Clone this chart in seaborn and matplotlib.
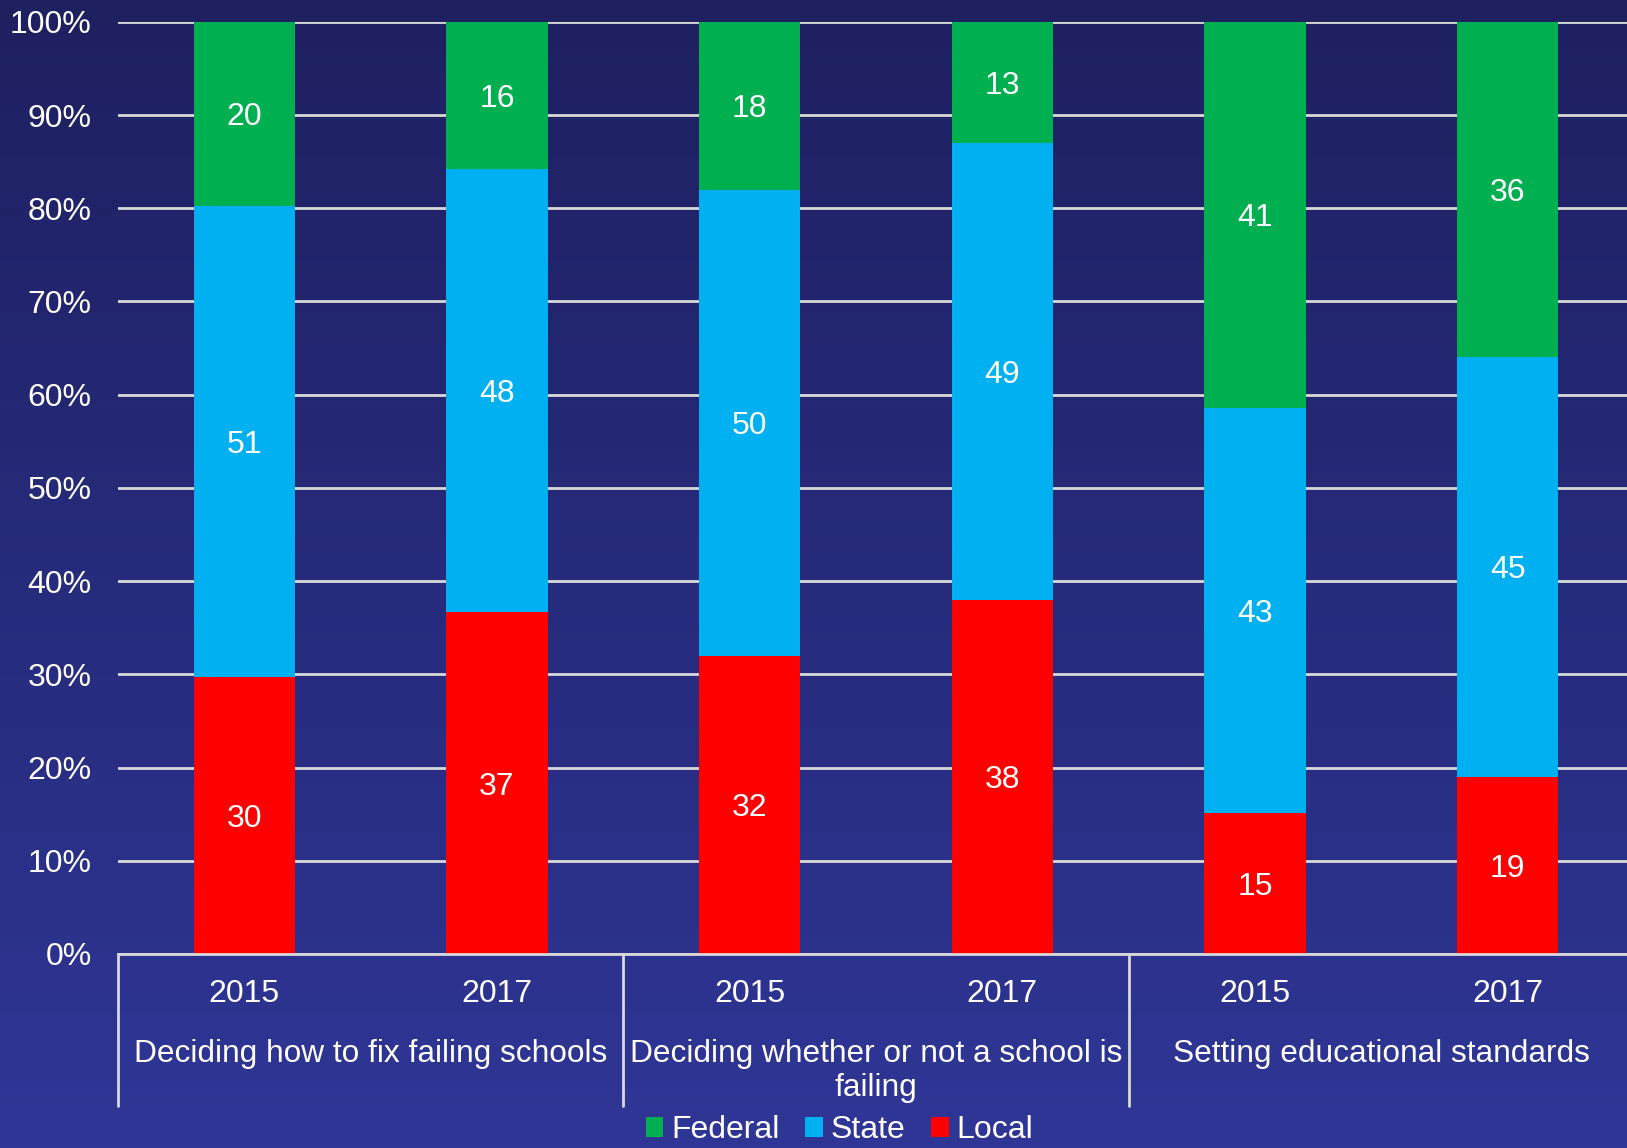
import matplotlib
matplotlib.use("Agg")
import matplotlib.pyplot as plt
import matplotlib.transforms as mtransforms
from matplotlib.patches import Patch
import seaborn as sns
import numpy as np
import pandas as pd

groups = ["Deciding how to fix failing schools",
          "Deciding whether or not a school is\nfailing",
          "Setting educational standards"]
years = ["2015", "2017", "2015", "2017", "2015", "2017"]
local = [30, 37, 32, 38, 15, 19]
state = [51, 48, 50, 49, 43, 45]
federal = [20, 16, 18, 13, 41, 36]

colors = {"Federal": "#00b050", "State": "#00b0f0", "Local": "#ff0000"}

# normalise to 100% stacks, labels keep the raw numbers
tot = np.array(local) + np.array(state) + np.array(federal)
loc_p = np.array(local) / tot * 100
sta_p = np.array(state) / tot * 100
fed_p = np.array(federal) / tot * 100

slots = [str(i) for i in range(len(years))]
df = pd.DataFrame({"slot": slots,
                   "Local": loc_p,
                   "LocalState": loc_p + sta_p,
                   "All": loc_p + sta_p + fed_p})

sns.set_style("white")
plt.rcParams["font.family"] = ["Liberation Sans", "DejaVu Sans"]

fig = plt.figure(figsize=(16.27, 11.48), dpi=100)

# gradient background
bg = fig.add_axes([0, 0, 1, 1], zorder=-10)
grad = np.linspace(0, 1, 256)[:, None]
top = np.array([30, 32, 96]) / 255
bot = np.array([47, 54, 150]) / 255
img = top[None, None, :] * (1 - grad[:, :, None]) + bot[None, None, :] * grad[:, :, None]
bg.imshow(img, aspect="auto", extent=[0, 1, 0, 1])
bg.set_axis_off()

ax = fig.add_axes([0.0725, 0.169, 0.9318, 0.812])
ax.patch.set_alpha(0)

for col, key in [("All", "Federal"), ("LocalState", "State"), ("Local", "Local")]:
    sns.barplot(data=df, x="slot", y=col, color=colors[key], width=0.4,
                saturation=1, linewidth=0, ax=ax, zorder=3)

fs = 23
off = 0.35  # labels sit slightly below segment centre
for i in range(len(years)):
    ax.text(i, loc_p[i] / 2 - off, str(local[i]), ha="center", va="center",
            color="white", fontsize=fs, zorder=5)
    ax.text(i, loc_p[i] + sta_p[i] / 2 - off, str(state[i]), ha="center",
            va="center", color="white", fontsize=fs, zorder=5)
    ax.text(i, loc_p[i] + sta_p[i] + fed_p[i] / 2 - off, str(federal[i]),
            ha="center", va="center", color="white", fontsize=fs, zorder=5)

ax.set_xlim(-0.5, 5.5)
ax.set_ylim(0, 100)
ax.set_yticks(np.arange(0, 101, 10))
ax.set_yticklabels([f"{v}%" for v in range(0, 101, 10)])
ax.tick_params(axis="y", colors="white", labelsize=fs, length=0, pad=19)
ax.yaxis.grid(True, color="#d9d9d9", linewidth=2, zorder=0)
ax.set_axisbelow(True)
for s in ["top", "right", "left"]:
    ax.spines[s].set_visible(False)
ax.spines["bottom"].set_color("#d9d9d9")
ax.spines["bottom"].set_linewidth(2)
ax.spines["bottom"].set_zorder(4)
ax.set_xlabel("")
ax.set_ylabel("")

# two-tier category axis
ax.set_xticks(range(len(years)))
ax.set_xticklabels(years)
ax.tick_params(axis="x", colors="white", labelsize=fs, length=0, pad=18)

trans = mtransforms.blended_transform_factory(ax.transData, ax.transAxes)
for g, name in enumerate(groups):
    ax.text(2 * g + 0.5, -0.091, name, transform=trans, ha="center", va="top",
            color="white", fontsize=22.8, linespacing=1.2)
for xs in [-0.5, 1.5, 3.5]:
    ax.plot([xs, xs], [0, -0.1626], transform=trans, color="#d9d9d9",
            linewidth=2, clip_on=False)

handles = [Patch(facecolor=colors[k], edgecolor="none", label=k)
           for k in ["Federal", "State", "Local"]]
leg = fig.legend(handles=handles, loc="center", bbox_to_anchor=(0.516, 0.0155),
                 ncol=3, frameon=False, fontsize=fs, handlelength=0.55,
                 handleheight=0.55, handletextpad=0.25, columnspacing=0.8,
                 borderpad=0)
for t in leg.get_texts():
    t.set_color("white")

fig.savefig("out.png", dpi=100)
